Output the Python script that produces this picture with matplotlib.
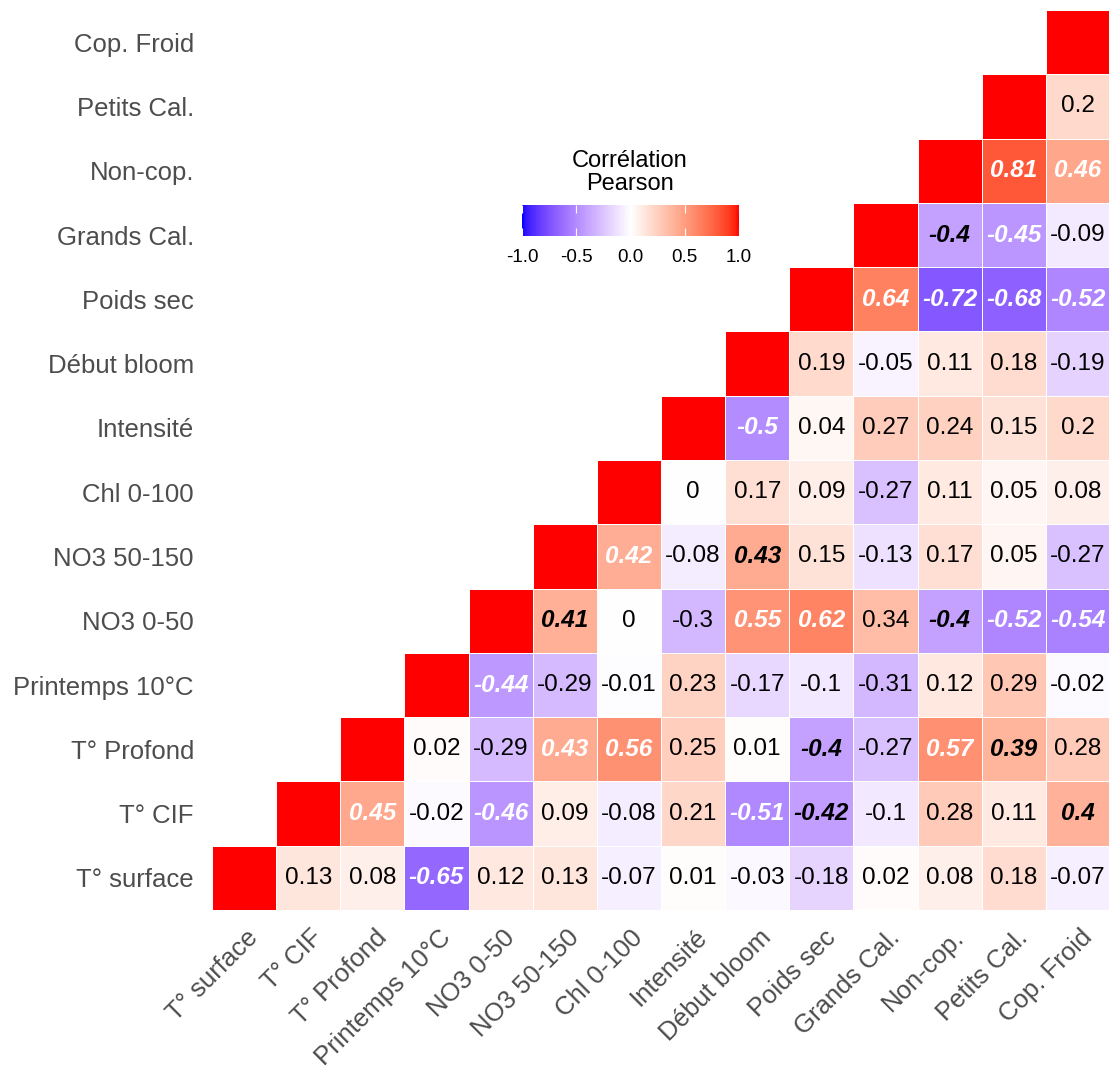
import numpy as np
import matplotlib
matplotlib.use("Agg")
import matplotlib.pyplot as plt
from matplotlib.colors import ListedColormap
from matplotlib.transforms import ScaledTranslation

plt.rcParams['font.family'] = ['Liberation Sans', 'DejaVu Sans']
plt.rcParams['axes.unicode_minus'] = False

labels = ["T° surface", "T° CIF", "T° Profond", "Printemps 10°C", "NO3 0-50",
          "NO3 50-150", "Chl 0-100", "Intensité", "Début bloom", "Poids sec",
          "Grands Cal.", "Non-cop.", "Petits Cal.", "Cop. Froid"]

# upper triangle, row i holds columns i+1 .. 13
r_surface = [0.13, 0.08, -0.65, 0.12, 0.13, -0.07, 0.01, -0.03, -0.18, 0.02, 0.08, 0.18, -0.07]
r_cif = [0.45, -0.02, -0.46, 0.09, -0.08, 0.21, -0.51, -0.42, -0.1, 0.28, 0.11, 0.4]
r_profond = [0.02, -0.29, 0.43, 0.56, 0.25, 0.01, -0.4, -0.27, 0.57, 0.39, 0.28]
r_printemps = [-0.44, -0.29, -0.01, 0.23, -0.17, -0.1, -0.31, 0.12, 0.29, -0.02]
r_no3_050 = [0.41, 0, -0.3, 0.55, 0.62, 0.34, -0.4, -0.52, -0.54]
r_no3_50150 = [0.42, -0.08, 0.43, 0.15, -0.13, 0.17, 0.05, -0.27]
r_chl = [0, 0.17, 0.09, -0.27, 0.11, 0.05, 0.08]
r_intensite = [-0.5, 0.04, 0.27, 0.24, 0.15, 0.2]
r_debut = [0.19, -0.05, 0.11, 0.18, -0.19]
r_poids = [0.64, -0.72, -0.68, -0.52]
r_grands = [-0.4, -0.45, -0.09]
r_noncop = [0.81, 0.46]
r_petits = [0.2]

# 0 = plain, 1 = bold italic black, 2 = bold italic white
s_surface = [0, 0, 2, 0, 0, 0, 0, 0, 0, 0, 0, 0, 0]
s_cif = [2, 0, 2, 0, 0, 0, 2, 1, 0, 0, 0, 1]
s_profond = [0, 0, 2, 2, 0, 0, 1, 0, 2, 1, 0]
s_printemps = [2, 0, 0, 0, 0, 0, 0, 0, 0, 0]
s_no3_050 = [1, 0, 0, 2, 2, 0, 1, 2, 2]
s_no3_50150 = [2, 0, 1, 0, 0, 0, 0, 0]
s_chl = [0, 0, 0, 0, 0, 0, 0]
s_intensite = [2, 0, 0, 0, 0, 0]
s_debut = [0, 0, 0, 0, 0]
s_poids = [2, 2, 2, 2]
s_grands = [1, 2, 0]
s_noncop = [2, 2]
s_petits = [0]

rows = [r_surface, r_cif, r_profond, r_printemps, r_no3_050, r_no3_50150, r_chl,
        r_intensite, r_debut, r_poids, r_grands, r_noncop, r_petits]
styles = [s_surface, s_cif, s_profond, s_printemps, s_no3_050, s_no3_50150, s_chl,
          s_intensite, s_debut, s_poids, s_grands, s_noncop, s_petits]

n = len(labels)
M = np.full((n, n), np.nan)
S = np.zeros((n, n), dtype=int)
for i in range(n):
    M[i, i] = 1.0
for i, (vals, st) in enumerate(zip(rows, styles)):
    for k, (v, s) in enumerate(zip(vals, st)):
        M[i, i + 1 + k] = v
        S[i, i + 1 + k] = s


# blue-white-red gradient interpolated in Lab, like ggplot
WHITE = np.array([0.95047, 1.0, 1.08883])
XYZ = np.array([[0.4124, 0.3576, 0.1805], [0.2126, 0.7152, 0.0722], [0.0193, 0.1192, 0.9505]])

def rgb2lab(rgb):
    c = np.asarray(rgb, float)
    c = np.where(c > 0.04045, ((c + 0.055) / 1.055) ** 2.4, c / 12.92)
    xyz = XYZ @ c / WHITE
    f = np.where(xyz > 0.008856, np.cbrt(xyz), 7.787 * xyz + 16 / 116)
    return np.array([116 * f[1] - 16, 500 * (f[0] - f[1]), 200 * (f[1] - f[2])])

def lab2rgb(lab):
    fy = (lab[0] + 16) / 116
    f = np.array([fy + lab[1] / 500, fy, fy - lab[2] / 200])
    xyz = np.where(f ** 3 > 0.008856, f ** 3, (f - 16 / 116) / 7.787) * WHITE
    c = np.linalg.solve(XYZ, xyz)
    c = np.where(c > 0.0031308, 1.055 * np.clip(c, 0, None) ** (1 / 2.4) - 0.055, 12.92 * c)
    return np.clip(c, 0, 1)

lab_lo, lab_mid, lab_hi = rgb2lab([0, 0, 1]), rgb2lab([1, 1, 1]), rgb2lab([1, 0, 0])
cols = []
for t in np.linspace(-1, 1, 256):
    if t < 0:
        cols.append(lab2rgb(lab_mid + (lab_lo - lab_mid) * (-t)))
    else:
        cols.append(lab2rgb(lab_mid + (lab_hi - lab_mid) * t))
cmap = ListedColormap(cols)

fig = plt.figure(figsize=(11.09, 10.70), dpi=100)
ax = fig.add_axes([212 / 1109, 160 / 1070, 898 / 1109, 900 / 1070])

Mm = np.ma.masked_invalid(M)
mesh = ax.pcolormesh(np.arange(n + 1) - 0.5, np.arange(n + 1) - 0.5, Mm, cmap=cmap,
                     vmin=-1, vmax=1, edgecolors='white', linewidth=0.6)
ax.set_xlim(-0.5, n - 0.5)
ax.set_ylim(-0.5, n - 0.5)

for i in range(n):
    for j in range(i + 1, n):
        v = M[i, j]
        s = S[i, j]
        txt = '%g' % v
        if s == 0:
            ax.text(j, i, txt, ha='center', va='center', fontsize=17.5, color='black')
        else:
            ax.text(j, i, txt, ha='center', va='center', fontsize=17.5,
                    fontweight='bold', fontstyle='italic',
                    color='white' if s == 2 else 'black')

ax.set_xticks(range(n))
ax.set_yticks(range(n))
ax.set_xticklabels(labels, rotation=45, ha='right', va='top', rotation_mode='anchor',
                   fontsize=18.5, color='#4D4D4D')
ax.set_yticklabels(labels, fontsize=18.5, color='#4D4D4D')
ax.tick_params(axis='both', length=0)
ax.tick_params(axis='y', pad=13)
ax.tick_params(axis='x', pad=11)
shift = ScaledTranslation(0.02, 0, fig.dpi_scale_trans)
for lab in ax.get_xticklabels():
    lab.set_transform(lab.get_transform() + shift)
for sp in ax.spines.values():
    sp.set_visible(False)

cax = fig.add_axes([522 / 1109, 834 / 1070, 217 / 1109, 31 / 1070])
cb = fig.colorbar(mesh, cax=cax, orientation='horizontal')
cb.outline.set_visible(False)
cb.set_ticks([-1.0, -0.5, 0.0, 0.5, 1.0])
cb.set_ticklabels(['-1.0', '-0.5', '0.0', '0.5', '1.0'])
cax.xaxis.set_ticks_position('both')
cax.tick_params(axis='x', direction='in', color='white', length=6, width=0.8,
                labelsize=13.5, pad=9, labelcolor='black')
fig.text(630 / 1109, (1070 - 195) / 1070, "Corrélation\nPearson", ha='center', va='bottom',
         fontsize=17, linespacing=1.07, color='black')

fig.savefig("out.png", dpi=100, facecolor='white')
